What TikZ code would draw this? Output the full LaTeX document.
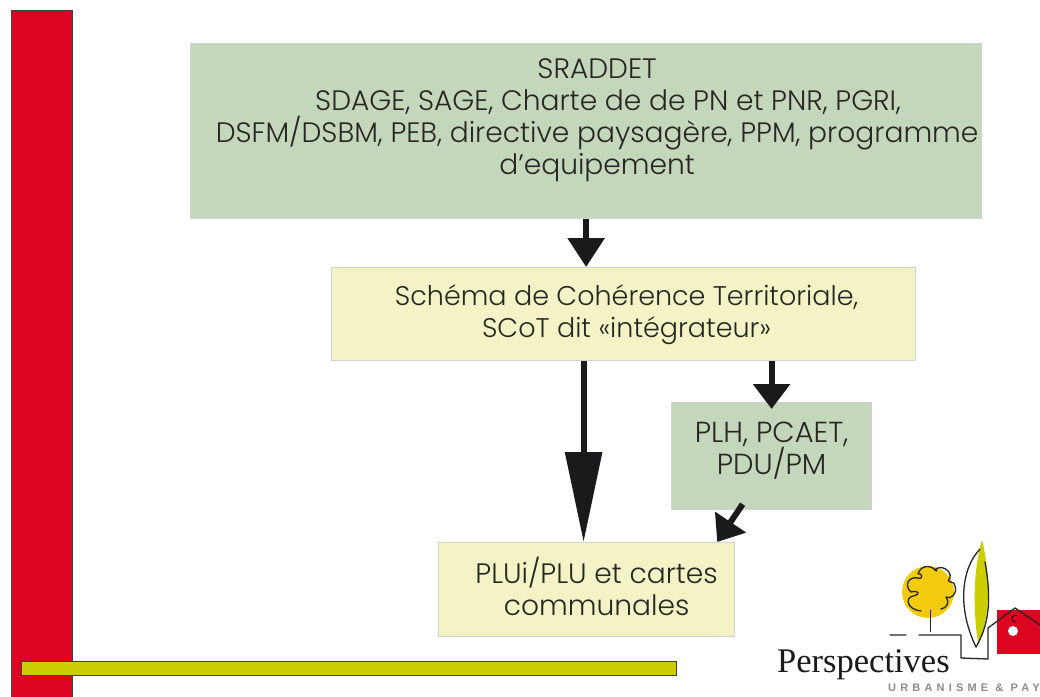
\documentclass[tikz,border=0pt]{standalone}
\usepackage{fontspec}
\setmainfont{Poppins Light}
\newfontfamily\logoserif{Liberation Serif}
\newfontfamily\logosans{Liberation Sans}[LetterSpace=38]
\usetikzlibrary{arrows.meta}
\definecolor{barred}{HTML}{DC0420}
\definecolor{barolive}{HTML}{CBCE00}
\definecolor{boxgreen}{HTML}{C5D7BB}
\definecolor{boxyellow}{HTML}{F4F3C6}
\definecolor{arrowblack}{HTML}{1A1A1C}
\definecolor{treeyellow}{HTML}{F2CC0C}
\tikzset{
	box/.style={draw=black!18,line width=1.2pt,inner sep=0pt,anchor=north west},
	boxtext/.style={align=center,text=black!85,font=\fontsize{28.1}{32}\selectfont,inner sep=0pt},
	flow/.style={draw=arrowblack,line width=6pt},
	logoline/.style={black!85,line width=1.3pt,line cap=round,line join=round},
}
\begin{document}
\begin{tikzpicture}[x=1pt,y=-1pt]
	\clip (0,0) rectangle (1040,696);
	\fill[white] (0,0) rectangle (1040,696);
	\draw[fill=barred,draw=black!75,line width=1pt] (11,10) rectangle (72,700);
	\draw[fill=barolive,draw=black!75,line width=1pt] (21,661) rectangle (676,675);
	\node[box,fill=boxgreen,minimum width=791pt,minimum height=175pt] (sraddet) at (190,43) {};
	\node[box,fill=boxyellow,minimum width=584pt,minimum height=93pt] (scot) at (331,267) {};
	\node[box,fill=boxgreen,minimum width=200pt,minimum height=107pt] (plh) at (671,402) {};
	\node[box,fill=boxyellow,minimum width=296pt,minimum height=94pt] (plu) at (438,542) {};
	\node[boxtext] (sraddet text) at ([shift={(11,-11)}]sraddet.center) {SRADDET\\\hspace*{22pt}SDAGE, SAGE, Charte de de PN et PNR, PGRI,\\DSFM/DSBM, PEB, directive paysagère, PPM, programme\\d’equipement};
	\node[boxtext,font=\fontsize{27}{32}\selectfont] (scot text) at ([shift={(3,1)}]scot.center) {Schéma de Cohérence Territoriale,\\SCoT dit «intégrateur»};
	\node[boxtext,font=\fontsize{29}{32}\selectfont] (plh text) at ([shift={(0,-5)}]plh.center) {PLH, PCAET,\\PDU/PM};
	\node[boxtext] (plu text) at ([shift={(10,-3)}]plu.center) {PLUi/PLU et cartes\\communales};
	\draw[flow,-{Triangle[width=36pt,length=29pt]}] (sraddet.south) -- (sraddet.south |- scot.north);
	\draw[flow,-{Triangle[width=36pt,length=90pt]}] ([xshift=-3pt]scot.south -| plu.north) -- ([xshift=-3pt]plu.north);
	\draw[flow,-{Triangle[width=36pt,length=25pt]},shorten >=-7pt] (scot.south -| plh.north) -- (plh.north);
	\coordinate (plu corner) at ([xshift=-18pt]plu.north east);
	\draw[flow,-{Triangle[width=36pt,length=24pt]}] ([shift={(-29,-6)}]plh.south) -- (plu corner);
	\fill[treeyellow] (928,592) circle (26);
	\fill[barolive] (982,540) .. controls (991,575) and (990,620) .. (978,643) .. controls (973,610) and (973,570) .. (982,540) -- cycle;
	\fill[barred] (997,610) rectangle (1040,654);
	\fill[white] (1013,631) circle (5);
	\draw[black,line width=.8pt] (1016,622) arc (80:300:3.5);
	\draw[logoline] (976,647) .. controls (958,610) and (960,570) .. (980,549);
	\draw[logoline] (976,647) .. controls (992,620) and (990,590) .. (985,562);
	\draw[logoline] (890,635) -- (906,635) (919,635) -- (961,635) -- (961,658) -- (988,659) -- (988,628) -- (1015,608) -- (1040,625);
	\draw[logoline,line width=.9pt] (930,610) -- (930,632);
	\draw[logoline] (921,611) .. controls (908,610) and (904,598) .. (913,596) .. controls (922,594) and (918,590) .. (911,592) .. controls (904,586) and (908,576) .. (918,578) .. controls (924,580) and (922,572) .. (918,574) .. controls (920,566) and (930,564) .. (935,570) .. controls (938,574) and (936,566) .. (935,570) .. controls (940,564) and (952,570) .. (950,578) .. controls (944,584) and (956,580) .. (955,586) .. controls (958,594) and (950,600) .. (946,597) .. controls (950,602) and (947,608) .. (941,609);
	\node[inner sep=0pt,anchor=base west,font=\logoserif\fontsize{34.5}{34}\selectfont,text=black!90] (logo name) at (777,672) {Perspectives};
	\node[inner sep=0pt,anchor=base west,font=\logosans\bfseries\fontsize{11}{12}\selectfont,text=black!45] (logo sub) at (888,691) {URBANISME \& PAY};
\end{tikzpicture}
\end{document}
